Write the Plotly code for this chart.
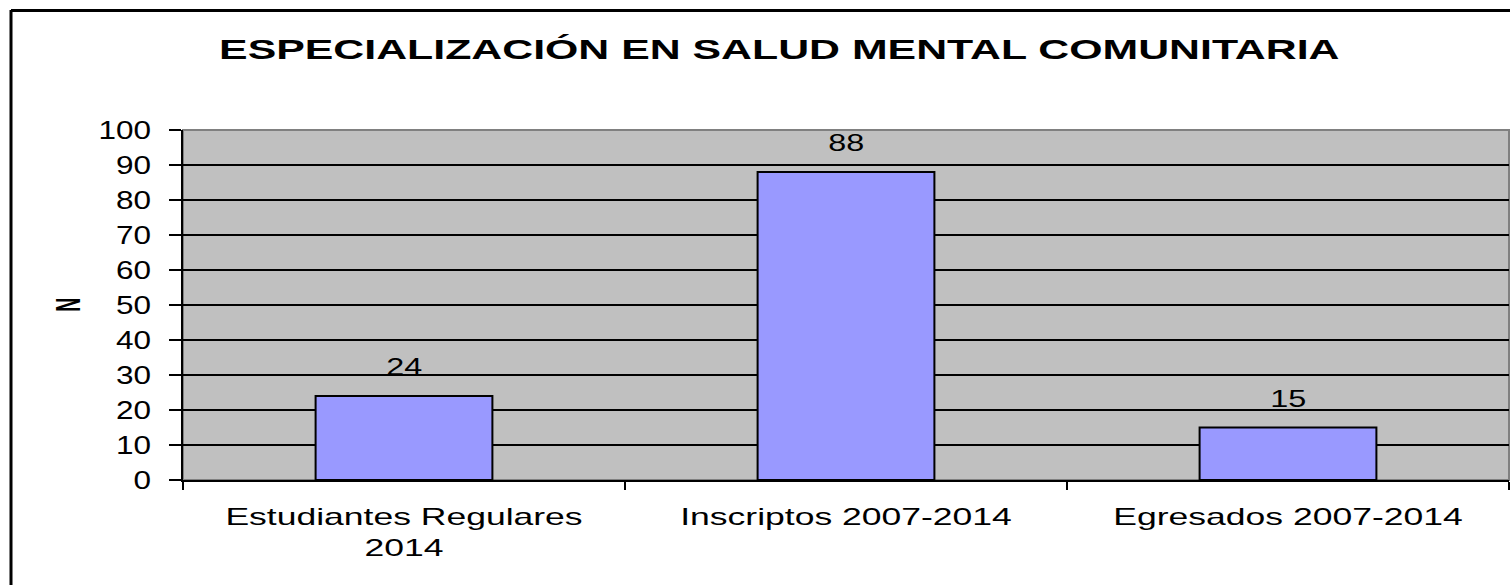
import plotly.graph_objects as go

categories = ["Estudiantes Regulares<br>2014", "Inscriptos 2007-2014", "Egresados 2007-2014"]
values = [24, 88, 15]
y_ticks = list(range(0, 101, 10))

title_text = "ESPECIALIZACIÓN EN SALUD MENTAL COMUNITARIA"
font_family = "Liberation Sans, Arial, sans-serif"

W, H = 1510, 585
L, R, T, B = 183, 1, 130, 105
plot_w = W - L - R
plot_h = H - T - B

fig = go.Figure()
fig.add_trace(go.Bar(
    x=categories,
    y=values,
    width=0.4,
    marker=dict(color="#9999ff", line=dict(color="black", width=2)),
    hoverinfo="skip",
))

# value labels above each bar (annotation indices 0..2)
for c, v in zip(categories, values):
    fig.add_annotation(
        x=c, y=v, text=str(v), showarrow=False,
        yanchor="bottom", yshift=14,
        font=dict(family=font_family, size=24, color="black"),
    )

# y axis title (index 3)
fig.add_annotation(
    xref="paper", yref="paper",
    x=(68 - L) / plot_w, y=(H - B - 305) / plot_h,
    text="<b>N</b>", textangle=-90, showarrow=False,
    xanchor="center", yanchor="middle",
    font=dict(family=font_family, size=26, color="black"),
)

# chart title (index 4)
fig.add_annotation(
    xref="paper", yref="paper",
    x=(779 - L) / plot_w, y=(H - B - 50) / plot_h,
    text="<b>" + title_text + "</b>", showarrow=False,
    xanchor="center", yanchor="middle",
    font=dict(family=font_family, size=28, color="black"),
)

# plot area frame (gray) and outer chart frame (black, top and left)
fig.add_shape(type="rect", xref="paper", yref="paper", x0=0, x1=1, y0=0, y1=1,
              line=dict(color="#808080", width=2), layer="below")
fig.add_shape(type="line", xref="paper", yref="paper",
              x0=(11 - L) / plot_w, x1=(W - L) / plot_w,
              y0=(H - B - 10.5) / plot_h, y1=(H - B - 10.5) / plot_h,
              line=dict(color="black", width=3))
fig.add_shape(type="line", xref="paper", yref="paper",
              x0=(11 - L) / plot_w, x1=(11 - L) / plot_w,
              y0=(H - B - 10) / plot_h, y1=-B / plot_h,
              line=dict(color="black", width=3))

fig.update_layout(
    width=W, height=H,
    margin=dict(l=L, r=R, t=T, b=B, pad=0),
    paper_bgcolor="white",
    plot_bgcolor="#c0c0c0",
    showlegend=False,
    bargap=0.6,
    font=dict(family=font_family, size=24, color="black"),
    xaxis=dict(
        type="category",
        showgrid=False,
        showline=True, linecolor="black", linewidth=2,
        ticks="outside", tickson="boundaries", ticklen=8, tickwidth=1.5, tickcolor="black",
        tickfont=dict(size=24),
        ticklabelstandoff=14,
    ),
    yaxis=dict(
        range=[0, 100],
        tickvals=y_ticks,
        showgrid=True, gridcolor="black", gridwidth=2,
        zeroline=False,
        showline=True, linecolor="black", linewidth=2,
        ticks="outside", ticklen=12, tickwidth=2, tickcolor="black",
        tickfont=dict(size=25),
        ticklabelstandoff=13,
    ),
)

# widen the lettering horizontally, keeping each label's anchor point fixed
widen_text = """
var gd = document.getElementById('{plot_id}');
function widen(sel, sx, sy) {
  sy = sy || 1;
  gd.querySelectorAll(sel).forEach(function (t) {
    var b = t.getBBox();
    var a = t.getAttribute('text-anchor') || 'start';
    var cx = a === 'end' ? b.x + b.width : (a === 'middle' ? b.x + b.width / 2 : b.x);
    var cy = b.y + b.height / 2;
    var tr = t.getAttribute('transform') || '';
    t.setAttribute('transform', tr + ' translate(' + cx + ',' + cy + ') scale(' + sx + ',' + sy + ') translate(' + (-cx) + ',' + (-cy) + ')');
  });
}
widen('.xtick text', 1.48);
widen('.ytick text', 1.26);
widen('.annotation[data-index="0"] text, .annotation[data-index="1"] text, .annotation[data-index="2"] text', 1.35);
widen('.annotation[data-index="3"] text', 0.75, 1.35);
widen('.annotation[data-index="4"] text', 1.53);
"""

fig.write_html("out.html", post_script=widen_text)
